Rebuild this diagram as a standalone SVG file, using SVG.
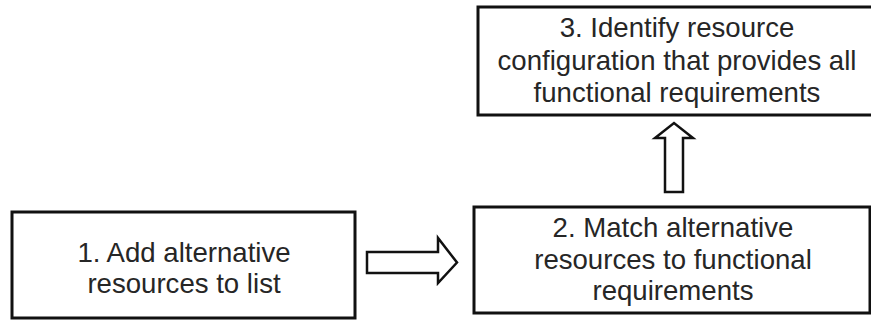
<svg xmlns="http://www.w3.org/2000/svg" width="871" height="321" viewBox="0 0 871 321">
  <style>
    .box { fill: #ffffff; stroke: #111111; stroke-width: 3; }
    .label { font-family: "Liberation Sans", Arial, sans-serif; font-size: 27.6px; fill: #262626; text-anchor: middle; }
    .arrow { fill: #ffffff; stroke: #111111; stroke-width: 2.5; stroke-linejoin: miter; }
  </style>
  <rect width="871" height="321" fill="#ffffff"/>

  <g id="step1">
    <rect class="box" x="12" y="212" width="343" height="106"/>
    <text class="label" x="184" y="262">1. Add alternative</text>
    <text class="label" x="184" y="293">resources to list</text>
  </g>

  <g id="step2">
    <rect class="box" x="474" y="207" width="396" height="106"/>
    <text class="label" x="673" y="237">2. Match alternative</text>
    <text class="label" x="673" y="269">resources to functional</text>
    <text class="label" x="673" y="300">requirements</text>
  </g>

  <g id="step3">
    <rect class="box" x="478" y="7" width="400" height="108"/>
    <text class="label" x="677" y="37">3. Identify resource</text>
    <text class="label" x="677" y="70">configuration that provides all</text>
    <text class="label" x="677" y="102">functional requirements</text>
  </g>

  <g id="connectors">
    <!-- block arrow: step 1 to step 2 -->
    <polygon class="arrow" points="367,252 438,252 438,238 457,262.5 438,283 438,273 367,273"/>
    <!-- block arrow: step 2 up to step 3 -->
    <polygon class="arrow" points="665,192 665,138 655,138 674,123 693,138 683,138 683,192"/>
  </g>
</svg>
